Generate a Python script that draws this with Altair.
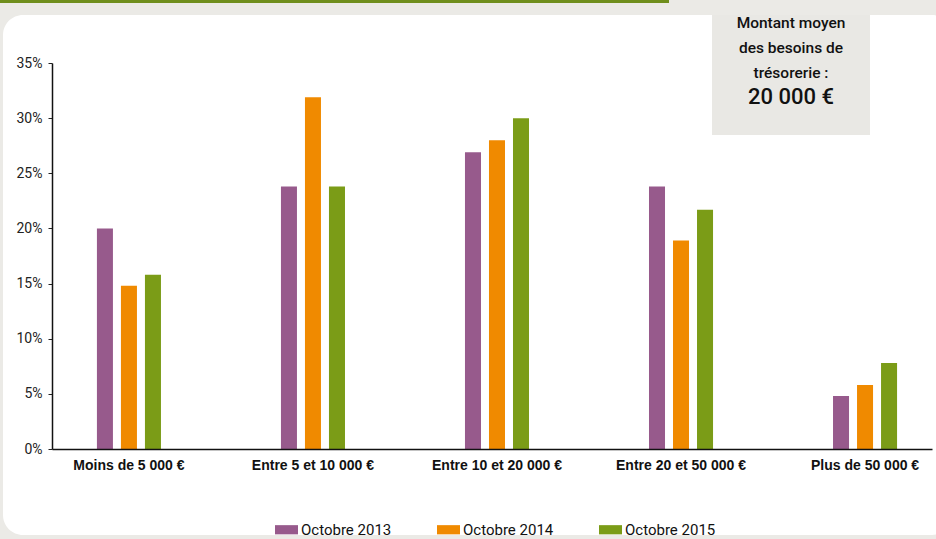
import altair as alt
import pandas as pd

categories = ["Moins de 5 000 €", "Entre 5 et 10 000 €", "Entre 10 et 20 000 €",
              "Entre 20 et 50 000 €", "Plus de 50 000 €"]
series = ["Octobre 2013", "Octobre 2014", "Octobre 2015"]
oct2013 = [20.0, 23.8, 26.9, 23.8, 4.8]
oct2014 = [14.8, 31.9, 28.0, 18.9, 5.8]
oct2015 = [15.8, 23.8, 30.0, 21.7, 7.8]
colors = ["#975a8c", "#f08a00", "#7b9c17"]
y_ticks = [0, 5, 10, 15, 20, 25, 30, 35]
box_lines = ["Montant moyen", "des besoins de", "trésorerie :"]
box_value = "20 000 €"

rows = []
for s, vals in zip(series, [oct2013, oct2014, oct2015]):
    for c, v in zip(categories, vals):
        rows.append({"cat": c, "serie": s, "val": v})
df = pd.DataFrame(rows)

NARROW = "Roboto, Liberation Sans, sans-serif"
W, H = 880, 386

# decorative card and header line
card = alt.Chart(pd.DataFrame({"k": [0]})).mark_rect(
    fill="white", cornerRadius=20
).encode(x=alt.value(-49), x2=alt.value(900), y=alt.value(-48), y2=alt.value(472))

topline = alt.Chart(pd.DataFrame({"k": [0]})).mark_rect(fill="#6f8e1c").encode(
    x=alt.value(-52), x2=alt.value(617), y=alt.value(-63), y2=alt.value(-60))

bars = alt.Chart(df).mark_bar().encode(
    x=alt.X("cat:N", sort=categories, title=None,
            scale=alt.Scale(paddingInner=0.652, paddingOuter=0.217, align=0.5625),
            axis=alt.Axis(labelAngle=0, ticks=False, labelFont="Liberation Sans",
                          labelFontWeight="bold", labelFontSize=14, labelColor="#111",
                          labelPadding=9, domainColor="#111", domainWidth=1.5,
                          zindex=1)),
    xOffset=alt.XOffset("serie:N", sort=series,
                        scale=alt.Scale(paddingInner=0.333, paddingOuter=0)),
    y=alt.Y("val:Q", title=None,
            scale=alt.Scale(domain=[0, 35], nice=False),
            axis=alt.Axis(values=y_ticks, labelExpr="datum.value + '%'",
                          grid=False, labelFont=NARROW, labelFontSize=14,
                          labelColor="#222", tickColor="#222", tickSize=4,
                          domainColor="#111", domainWidth=1.5, labelPadding=6,
                          zindex=1)),
    color=alt.Color("serie:N", sort=series, title=None,
                    scale=alt.Scale(domain=series, range=colors),
                    legend=alt.Legend(orient="none", direction="horizontal",
                                      legendX=223, legendY=455,
                                      symbolType="M-1,-0.4H1V0.4H-1Z", symbolSize=529,
                                      symbolStrokeWidth=0, symbolOpacity=1,
                                      labelFont=NARROW, labelFontSize=15,
                                      labelColor="#111", labelOffset=3,
                                      columnPadding=45)),
)

box = alt.Chart(pd.DataFrame({"k": [0]})).mark_rect(fill="#e9e8e4").encode(
    x=alt.value(660), x2=alt.value(818), y=alt.value(-48), y2=alt.value(72))

box_text = alt.Chart(pd.DataFrame({"k": [0]})).mark_text(
    font=NARROW, fontSize=15.5, fontWeight=500, color="#111",
    baseline="alphabetic", lineHeight=25
).encode(x=alt.value(739), y=alt.value(-35), text=alt.value(box_lines))

val_text = alt.Chart(pd.DataFrame({"t": [box_value]})).mark_text(
    font=NARROW, fontSize=22, fontWeight=500, color="#111", baseline="alphabetic"
).encode(x=alt.value(739), y=alt.value(41), text="t:N")

chart = alt.layer(card, topline, bars, box, box_text, val_text).properties(
    width=W, height=H,
    padding={"left": 52, "top": 63, "right": 4, "bottom": 90},
    autosize=alt.AutoSizeParams(type="none"),
    background="#ebeae6",
).configure_view(stroke=None)

chart.save("out.html", embed_options={"renderer": "svg", "actions": False})
